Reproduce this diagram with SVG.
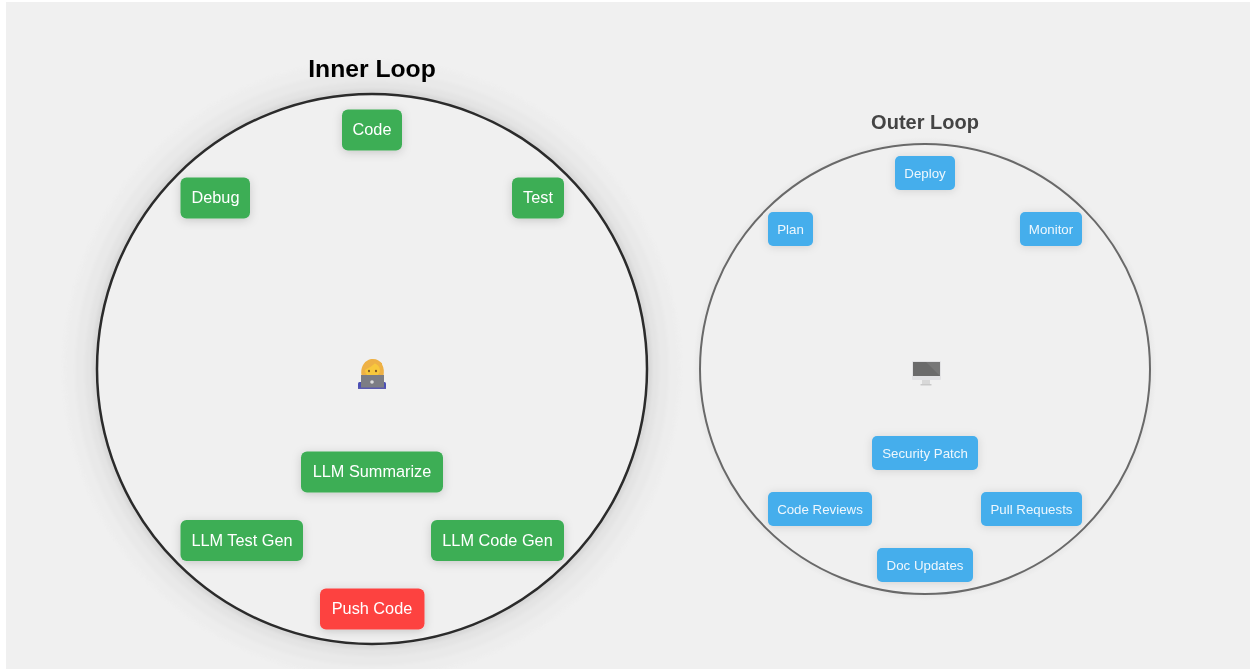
<svg xmlns="http://www.w3.org/2000/svg" width="1253" height="669" viewBox="0 0 1253 669">
<style>
text{font-family:"Liberation Sans",Arial,sans-serif;text-anchor:middle}
.g{fill:#3cae55}.r{fill:#fd4340}.b{fill:#45aeec}
.a text{fill:#fff;font-size:16.3px}
.c text{fill:#eef7fd;font-size:13.3px}
.a rect{filter:url(#s)}
.c rect{filter:url(#s2)}
#all{filter:blur(.45px)}
.rings{filter:blur(1.5px)}
</style>
<defs>
<filter id="s" x="-40%" y="-60%" width="180%" height="220%"><feDropShadow dx="0" dy="2" stdDeviation="5" flood-color="#000" flood-opacity=".17"/></filter>
<filter id="s2" x="-40%" y="-60%" width="180%" height="220%"><feDropShadow dx="0" dy="1" stdDeviation="4" flood-color="#000" flood-opacity=".13"/></filter>
<radialGradient id="glow2" gradientUnits="userSpaceOnUse" cx="925" cy="369" r="232">
<stop offset=".965" stop-color="#e6e6e6"/><stop offset="1" stop-color="#f0f0f0"/>
</radialGradient>
</defs>
<rect width="1253" height="669" fill="#fff"/>
<g id="all">
<rect x="6" y="2" width="1244" height="670" fill="#f0f0f0"/>

<g id="inner-loop">
<g class="rings">
<circle cx="372" cy="369" r="308" fill="#ededed"/>
<circle cx="372" cy="369" r="297" fill="#e9e9e9"/>
<circle cx="372" cy="369" r="287" fill="#e4e4e4"/>
<circle cx="372" cy="369" r="280" fill="#d9d9d9"/>
</g>
<circle cx="372" cy="369" r="275" fill="#f0f0f0" stroke="#2b2b2b" stroke-width="2.5"/>
<text x="372" y="76.500" style="font-size:24.700px;font-weight:700;fill:#000">Inner Loop</text>
</g>
<g id="outer-loop">
<circle cx="925" cy="369" r="232" fill="url(#glow2)"/>
<circle cx="925" cy="369" r="225" fill="#f0f0f0" stroke="#696969" stroke-width="2"/>
<text x="925" y="129" style="font-size:20px;font-weight:700;fill:#444">Outer Loop</text>
</g>

<g id="connectors"></g>

<g class="a">
<g id="code"><rect class="g" x="342" y="109.500" width="60" height="41" rx="6"/><text x="372" y="135">Code</text></g>
<g id="test"><rect class="g" x="512" y="177.500" width="52" height="41" rx="6"/><text x="538" y="203">Test</text></g>
<g id="debug"><rect class="g" x="180.500" y="177.500" width="69.500" height="41" rx="6"/><text x="215.500" y="203">Debug</text></g>
<g id="llm-summarize"><rect class="g" x="301" y="451.500" width="142" height="41" rx="6"/><text x="372" y="477">LLM Summarize</text></g>
<g id="llm-test-gen"><rect class="g" x="180.500" y="520" width="122.500" height="41" rx="6"/><text x="242" y="546">LLM Test Gen</text></g>
<g id="llm-code-gen"><rect class="g" x="431" y="520" width="133" height="41" rx="6"/><text x="497.500" y="546">LLM Code Gen</text></g>
<g id="push-code"><rect class="r" x="320" y="588.500" width="104.500" height="41" rx="6"/><text x="372" y="614">Push Code</text></g>
</g>

<g class="c">
<g id="deploy"><rect class="b" x="895" y="156" width="60" height="34" rx="5"/><text x="925" y="178">Deploy</text></g>
<g id="monitor"><rect class="b" x="1020" y="212" width="62" height="34" rx="5"/><text x="1051" y="234">Monitor</text></g>
<g id="plan"><rect class="b" x="768" y="212" width="45" height="34" rx="5"/><text x="790.500" y="234">Plan</text></g>
<g id="security-patch"><rect class="b" x="872" y="436" width="106" height="34" rx="5"/><text x="925" y="458">Security Patch</text></g>
<g id="code-reviews"><rect class="b" x="768" y="492" width="104" height="34" rx="5"/><text x="820" y="514">Code Reviews</text></g>
<g id="pull-requests"><rect class="b" x="981" y="492" width="101" height="34" rx="5"/><text x="1031.500" y="514">Pull Requests</text></g>
<g id="doc-updates"><rect class="b" x="877" y="548" width="96" height="34" rx="5"/><text x="925" y="570">Doc Updates</text></g>
</g>

<g id="developer-emoji">
<rect x="358" y="382" width="4.500" height="7" rx="1.500" fill="#4a4fb5"/>
<rect x="381.500" y="382" width="4.500" height="7" rx="1.500" fill="#4a4fb5"/>
<path d="M362 378C359 367 365 359 373 359C381 359 386 367 383 378Z" fill="#eeb145"/>
<ellipse cx="372.500" cy="370" rx="7.500" ry="7" fill="#f8c83c"/>
<path d="M365 370C368 368 373 366 375 363C378 365 380 367 381 371L382 363L373 360L365 363Z" fill="#eeb145"/>
<ellipse cx="369" cy="371" rx=".9" ry="1.200" fill="#6a4520"/><ellipse cx="376" cy="371" rx=".9" ry="1.200" fill="#6a4520"/>
<rect x="361" y="375" width="23" height="13" fill="#7c7d84"/>
<rect x="358" y="387.500" width="28" height="1.500" fill="#5a5bb0"/>
<circle cx="372" cy="382" r="1.800" fill="#dcdcdc"/>
</g>
<g id="computer-emoji">
<rect x="912" y="361" width="29" height="19" rx="1" fill="#e2e2e4"/>
<path d="M913 362H940V376H913Z" fill="#6b6b6b"/>
<path d="M926 362H940V376Z" fill="#777"/>
<rect x="922" y="380" width="8" height="4" fill="#d8d8d8"/>
<rect x="920.500" y="384" width="11" height="1.500" fill="#c9c9c9"/>
</g>
</g>
</svg>
